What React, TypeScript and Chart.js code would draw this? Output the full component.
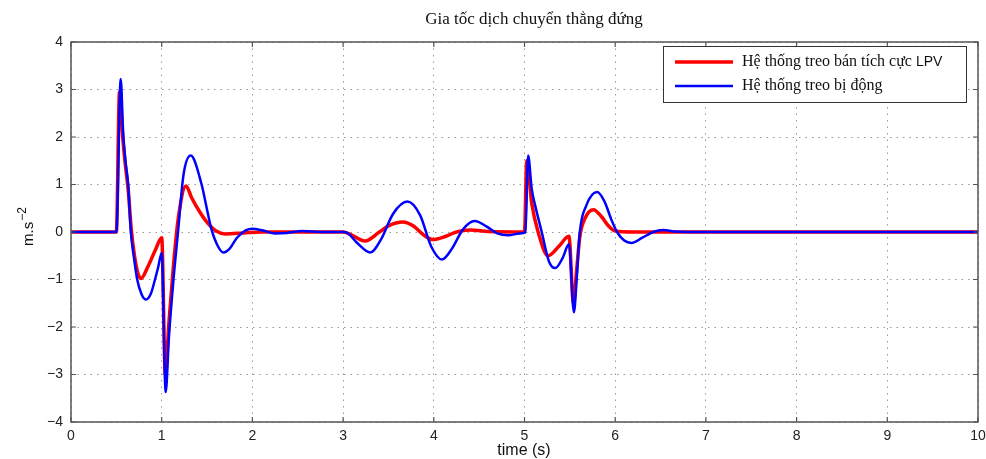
import React, { useEffect, useRef } from "react";
import { Chart, registerables } from "chart.js";

Chart.register(...registerables);

const TITLE = "Gia tốc dịch chuyển thẳng đứng";
const X_TITLE = "time (s)";
const Y_TITLE = "m.s";
const Y_TITLE_SUP = "−2";
const LEGEND_RED = "Hệ thống treo bán tích cực ";
const LEGEND_RED_SUFFIX = "LPV";
const LEGEND_BLUE = "Hệ thống treo bị động";

const X_TICKS = [0, 1, 2, 3, 4, 5, 6, 7, 8, 9, 10];
const Y_TICKS = [-4, -3, -2, -1, 0, 1, 2, 3, 4];

// Red: semi-active LPV suspension
const redT = [
  0, 0.5, 0.535, 0.57, 0.6, 0.63, 0.665, 0.7, 0.735, 0.77, 0.85, 0.93, 1.0,
  1.04, 1.08, 1.13, 1.18, 1.268, 1.33, 1.42, 1.51, 1.6, 1.7, 1.9, 2.1,
  3.0, 3.08, 3.24, 3.4, 3.5, 3.66, 3.78, 3.88, 3.99, 4.12, 4.25, 4.4, 4.6,
  5.0, 5.025, 5.08, 5.15, 5.26, 5.38, 5.49, 5.54, 5.575, 5.61, 5.67, 5.76,
  5.85, 5.93, 6.0, 6.2, 10,
];
const redY = [
  0, 0, 2.95, 2.0, 1.4, 0.9, 0.05, -0.5, -0.85, -0.98, -0.72, -0.38, -0.12,
  -3.0, -1.9, -0.7, 0.25, 0.97, 0.72, 0.42, 0.18, 0.02, -0.04, -0.02, 0,
  0, -0.05, -0.19, 0.0, 0.13, 0.21, 0.12, -0.05, -0.16, -0.1, 0.0, 0.04, 0.01,
  0, 1.5, 0.6, 0.0, -0.5, -0.3, -0.09, -1.5, -0.8, -0.1, 0.3, 0.47,
  0.32, 0.12, 0.02, 0, 0,
];

// Blue: passive suspension
const blueT = [
  0, 0.5, 0.548, 0.575, 0.6, 0.63, 0.66, 0.695, 0.73, 0.78, 0.827, 0.88,
  0.926, 0.96, 1.0, 1.044, 1.08, 1.13, 1.18, 1.24, 1.32, 1.44, 1.5, 1.55,
  1.62, 1.68, 1.75, 1.83, 1.93, 2.0, 2.12, 2.25, 2.38, 2.55, 2.75,
  3.0, 3.05, 3.15, 3.3, 3.42, 3.55, 3.71, 3.85, 3.97, 4.09, 4.2, 4.32, 4.45,
  4.58, 4.7, 4.82, 4.95, 5.01, 5.04, 5.08, 5.12, 5.19, 5.27, 5.34, 5.42,
  5.49, 5.545, 5.575, 5.61, 5.68, 5.8, 5.88, 5.96, 6.02, 6.1, 6.18, 6.3,
  6.42, 6.53, 6.65, 6.8, 10,
];
const blueY = [
  0, 0, 3.22, 2.1, 1.5, 1.0, 0.0, -0.55, -1.0, -1.32, -1.42, -1.3,
  -1.0, -0.75, -0.44, -3.37, -2.2, -1.0, 0.0, 1.2, 1.61, 1.0, 0.47, 0.05,
  -0.3, -0.43, -0.35, -0.12, 0.04, 0.07, 0.03, -0.03, -0.02, 0.02, 0,
  0, -0.02, -0.22, -0.43, -0.15, 0.38, 0.64, 0.35, -0.3, -0.58, -0.35, 0.05, 0.23,
  0.12, -0.03, -0.07, -0.03, -0.01, 1.61, 0.9, 0.54, 0.0, -0.62, -0.76, -0.55,
  -0.26, -1.69, -1.0, 0.0, 0.55, 0.84, 0.65, 0.25, 0.0, -0.18, -0.23, -0.12,
  0.0, 0.04, 0.01, 0, 0,
];

const toXY = (t: number[], y: number[]) => t.map((v, i) => ({ x: v, y: y[i] }));

const RED = "#ff0000";
const BLUE = "#0000ff";
const SANS = "'Liberation Sans', Arial, sans-serif";
const SERIF = "'Liberation Serif', 'Times New Roman', serif";

const decorPlugin = {
  id: "matlabDecor",
  afterDraw(chart: any) {
    const ctx: CanvasRenderingContext2D = chart.ctx;
    const a = chart.chartArea;
    const xs = chart.scales.x;
    const ys = chart.scales.y;
    ctx.save();
    // box
    ctx.strokeStyle = "#555";
    ctx.lineWidth = 1.5;
    ctx.strokeRect(a.left, a.top, a.right - a.left, a.bottom - a.top);
    // inner ticks
    ctx.lineWidth = 1.2;
    const tl = 5;
    ctx.beginPath();
    X_TICKS.forEach((v) => {
      const px = xs.getPixelForValue(v);
      ctx.moveTo(px, a.bottom);
      ctx.lineTo(px, a.bottom - tl);
      ctx.moveTo(px, a.top);
      ctx.lineTo(px, a.top + tl);
    });
    Y_TICKS.forEach((v) => {
      const py = ys.getPixelForValue(v);
      ctx.moveTo(a.left, py);
      ctx.lineTo(a.left + tl, py);
      ctx.moveTo(a.right, py);
      ctx.lineTo(a.right - tl, py);
    });
    ctx.stroke();

    // title
    ctx.fillStyle = "#111";
    ctx.font = `17px ${SERIF}`;
    ctx.textAlign = "center";
    ctx.textBaseline = "middle";
    ctx.fillText(TITLE, 534, 20);

    // x title
    ctx.font = `16px ${SANS}`;
    ctx.fillText(X_TITLE, 524, 451);

    // y title rotated
    ctx.save();
    ctx.translate(33, 227);
    ctx.rotate(-Math.PI / 2);
    ctx.textAlign = "left";
    ctx.textBaseline = "alphabetic";
    ctx.font = `15px ${SANS}`;
    const w1 = ctx.measureText(Y_TITLE).width;
    ctx.font = `12px ${SANS}`;
    const w2 = ctx.measureText(Y_TITLE_SUP).width;
    const start = -(w1 + w2) / 2;
    ctx.font = `15px ${SANS}`;
    ctx.fillText(Y_TITLE, start, 0);
    ctx.font = `12px ${SANS}`;
    ctx.fillText(Y_TITLE_SUP, start + w1 + 1, -7);
    ctx.restore();

    // legend
    const lx = 663, ly = 46, lw = 303, lh = 56;
    ctx.fillStyle = "#fff";
    ctx.fillRect(lx, ly, lw, lh);
    ctx.strokeStyle = "#333";
    ctx.lineWidth = 1;
    ctx.strokeRect(lx + 0.5, ly + 0.5, lw, lh);
    const rows = [
      { color: RED, width: 3.5, y: 62 },
      { color: BLUE, width: 2.5, y: 86 },
    ];
    rows.forEach((r) => {
      ctx.strokeStyle = r.color;
      ctx.lineWidth = r.width;
      ctx.beginPath();
      ctx.moveTo(675, r.y);
      ctx.lineTo(733, r.y);
      ctx.stroke();
    });
    ctx.fillStyle = "#111";
    ctx.textAlign = "left";
    ctx.textBaseline = "middle";
    ctx.font = `16px ${SERIF}`;
    ctx.fillText(LEGEND_RED, 742, 62);
    const wr = ctx.measureText(LEGEND_RED).width;
    ctx.font = `14px ${SANS}`;
    ctx.fillText(LEGEND_RED_SUFFIX, 742 + wr, 62);
    ctx.font = `16px ${SERIF}`;
    ctx.fillText(LEGEND_BLUE, 742, 86);
    ctx.restore();
  },
};

export default function App() {
  const ref = useRef<HTMLCanvasElement>(null);
  useEffect(() => {
    if (!ref.current) return;
    const fmt = (v: any) => {
      const n = Number(v);
      return n < 0 ? "−" + Math.abs(n) : String(n);
    };
    const chart = new Chart(ref.current, {
      type: "line",
      data: {
        datasets: [
          {
            label: LEGEND_RED + LEGEND_RED_SUFFIX,
            data: toXY(redT, redY),
            borderColor: RED,
            borderWidth: 3.5,
            pointRadius: 0,
            cubicInterpolationMode: "monotone",
            order: 1,
          },
          {
            label: LEGEND_BLUE,
            data: toXY(blueT, blueY),
            borderColor: BLUE,
            borderWidth: 2.5,
            pointRadius: 0,
            cubicInterpolationMode: "monotone",
            order: 0,
          },
        ],
      },
      options: {
        animation: false,
        responsive: false,
        devicePixelRatio: 1,
        layout: { padding: { top: 42, right: 8, left: 0, bottom: 0 } },
        plugins: {
          legend: { display: false },
          title: { display: false },
          tooltip: { enabled: false },
        },
        scales: {
          x: {
            type: "linear",
            min: 0,
            max: 10,
            afterFit: (s: any) => {
              s.height = 37;
              s.paddingLeft = 0;
              s.paddingRight = 0;
            },
            afterBuildTicks: (s: any) => {
              s.ticks = X_TICKS.map((v) => ({ value: v }));
            },
            ticks: {
              font: { family: SANS, size: 14 },
              color: "#222",
              padding: 6,
              maxRotation: 0,
              autoSkip: false,
              callback: fmt,
            },
            grid: {
              color: "#999",
              lineWidth: 1,
              drawTicks: false,
            },
            border: { display: false, dash: [1.5, 5] },
          },
          y: {
            type: "linear",
            min: -4,
            max: 4,
            afterFit: (s: any) => {
              s.width = 71;
              s.paddingTop = 0;
              s.paddingBottom = 0;
            },
            afterBuildTicks: (s: any) => {
              s.ticks = Y_TICKS.map((v) => ({ value: v }));
            },
            ticks: {
              font: { family: SANS, size: 14 },
              color: "#222",
              padding: 8,
              autoSkip: false,
              callback: fmt,
            },
            grid: {
              color: "#999",
              lineWidth: 1,
              drawTicks: false,
            },
            border: { display: false, dash: [1.5, 5] },
          },
        },
      },
      plugins: [decorPlugin],
    } as any);
    return () => chart.destroy();
  }, []);
  return (
    <div style={{ position: "fixed", left: 0, top: 0, width: 986, height: 459, background: "#fff" }}>
      <canvas ref={ref} width={986} height={459} />
    </div>
  );
}
